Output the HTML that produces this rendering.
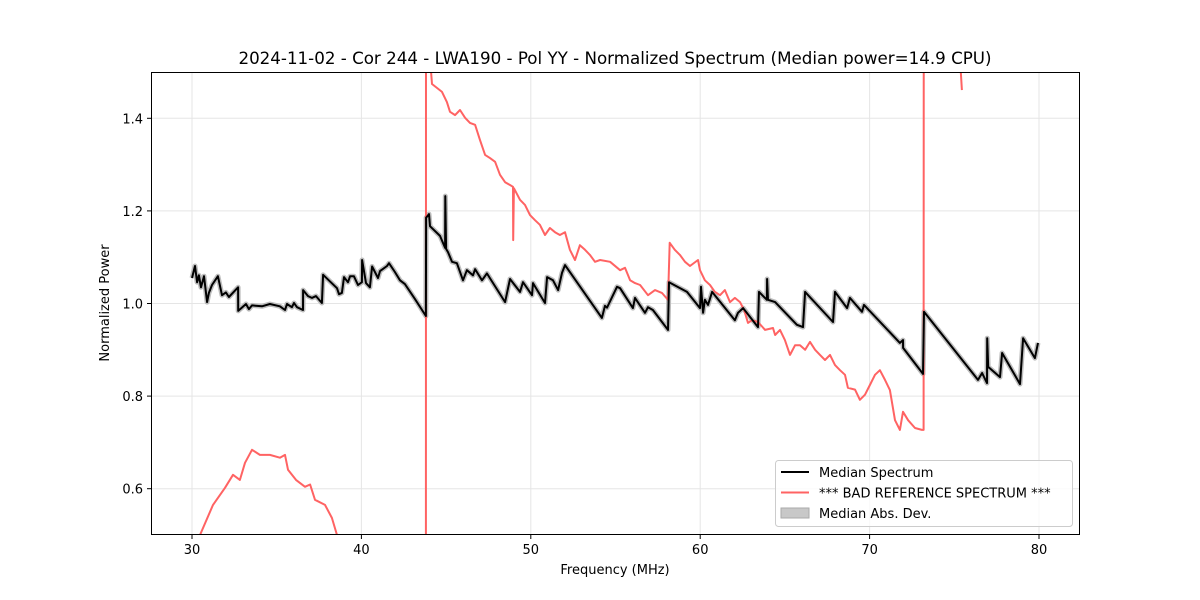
<!DOCTYPE html>
<html><head><meta charset="utf-8"><style>
html,body{margin:0;background:#fff;overflow:hidden;width:1200px;height:600px;}
svg{display:block;font-family:"DejaVu Sans","Liberation Sans",sans-serif;}
</style></head><body>
<svg id="chart" width="1200" height="600" viewBox="0 0 1200 600"></svg>
<script>
const xTicks=[30,40,50,60,70,80];
const yTicks=[0.6,0.8,1.0,1.2,1.4];
const yTickLabels=["0.6","0.8","1.0","1.2","1.4"];
const medFreq=[30.0,30.18,30.3,30.41,30.53,30.71,30.89,31.0,31.18,31.53,31.77,32.0,32.18,32.72,32.73,33.19,33.36,33.54,34.13,34.6,35.19,35.49,35.61,35.9,36.02,36.2,36.55,36.56,36.85,37.08,37.32,37.67,37.74,38.56,38.68,38.85,38.97,39.21,39.33,39.56,39.8,40.03,40.04,40.27,40.5,40.63,40.98,41.1,41.51,41.63,41.98,42.28,42.57,43.16,43.81,43.82,43.99,44.05,44.64,44.94,44.95,45.0,45.11,45.35,45.64,46.0,46.23,46.59,46.71,47.12,47.41,48.48,48.77,49.36,49.54,50.07,50.13,50.84,50.96,51.31,51.61,51.84,52.02,54.2,54.38,54.5,55.09,55.27,56.03,56.15,56.74,56.92,57.21,58.1,58.16,59.22,59.99,60.05,60.17,60.28,60.46,60.7,62.05,62.23,62.53,63.41,63.47,63.94,63.95,64.0,64.42,65.71,66.07,66.19,67.84,67.96,68.67,68.84,69.55,69.67,71.79,71.97,71.98,73.15,73.21,76.4,76.64,76.93,76.94,77.0,77.7,77.82,78.88,79.06,79.76,79.94];
const medPower=[1.055,1.081,1.046,1.061,1.035,1.059,1.003,1.023,1.04,1.059,1.018,1.024,1.014,1.035,0.984,0.999,0.988,0.996,0.994,0.999,0.994,0.986,0.999,0.992,1.001,0.992,0.986,1.029,1.016,1.012,1.016,1.001,1.062,1.033,1.02,1.023,1.057,1.046,1.059,1.059,1.04,1.046,1.094,1.044,1.035,1.08,1.055,1.07,1.081,1.087,1.068,1.05,1.042,1.01,0.973,1.185,1.193,1.167,1.146,1.12,1.232,1.118,1.111,1.09,1.087,1.05,1.072,1.061,1.074,1.05,1.065,1.003,1.053,1.025,1.046,1.018,1.044,1.001,1.057,1.05,1.029,1.066,1.083,0.969,0.995,0.991,1.036,1.033,0.99,1.012,0.98,0.992,0.986,0.943,1.046,1.025,0.99,1.036,0.98,1.008,0.997,1.025,0.964,0.98,0.99,0.949,1.025,1.008,1.053,1.008,1.003,0.954,0.949,1.025,0.96,1.025,0.99,1.012,0.982,0.997,0.915,0.921,0.904,0.848,0.982,0.835,0.85,0.828,0.925,0.863,0.841,0.893,0.826,0.925,0.882,0.915];
const refFreq=[30.1,30.47,31.24,31.95,32.42,32.83,33.13,33.54,34.01,34.6,35.19,35.49,35.67,36.14,36.67,36.97,37.26,37.85,38.26,38.56,38.74,39.5,43.78,43.8,43.82,43.9,44.17,44.76,45.05,45.23,45.53,45.82,46.12,46.41,46.71,47.0,47.3,47.59,47.89,48.18,48.48,48.77,48.95,48.96,49.0,49.36,49.66,49.95,50.25,50.54,50.84,51.13,51.43,51.72,52.02,52.31,52.61,52.9,53.2,53.49,53.79,54.09,54.68,55.27,55.56,55.86,56.15,56.45,56.92,57.33,57.74,58.1,58.2,58.5,58.8,59.1,59.4,59.87,59.99,60.28,60.58,60.87,61.17,61.46,61.76,62.05,62.35,62.59,62.82,63.06,63.41,63.83,64.3,64.42,64.71,65.0,65.3,65.6,65.89,66.19,66.48,66.78,67.07,67.37,67.66,67.96,68.25,68.55,68.72,69.14,69.43,69.73,70.02,70.32,70.61,70.91,71.2,71.5,71.79,71.97,72.27,72.68,73.09,73.19,73.21,73.25,75.22,75.45];
const refPower=[0.45,0.5,0.565,0.602,0.63,0.619,0.656,0.684,0.673,0.673,0.667,0.673,0.641,0.619,0.604,0.609,0.576,0.565,0.537,0.5,0.48,0.3,0.3,-1,3,1.6,1.474,1.457,1.435,1.414,1.407,1.418,1.401,1.39,1.386,1.353,1.321,1.314,1.306,1.278,1.262,1.256,1.252,1.137,1.249,1.224,1.213,1.191,1.18,1.17,1.148,1.163,1.154,1.148,1.154,1.116,1.094,1.126,1.116,1.105,1.09,1.094,1.09,1.072,1.077,1.05,1.044,1.04,1.018,1.029,1.023,1.008,1.131,1.116,1.105,1.09,1.081,1.094,1.072,1.05,1.04,1.025,1.018,1.029,1.003,1.012,1.003,0.986,0.958,0.964,0.96,0.943,0.947,0.932,0.943,0.921,0.889,0.91,0.91,0.9,0.917,0.9,0.889,0.878,0.889,0.867,0.856,0.846,0.818,0.814,0.792,0.803,0.824,0.846,0.856,0.835,0.813,0.748,0.727,0.766,0.748,0.731,0.727,0.727,3,3,1.6,1.461];

const L=151,R=1080,T=72,B=535;
const x=f=>192+(f-30)*(1039-192)/50;
const y=v=>B-(v-0.5)*(B-T)/1.0;
const NS="http://www.w3.org/2000/svg";
const svg=document.getElementById('chart');
function mk(tag,attrs,parent){const e=document.createElementNS(NS,tag);for(const k in attrs)e.setAttribute(k,attrs[k]);(parent||svg).appendChild(e);return e;}

const defs=mk('defs',{});
const cp=mk('clipPath',{id:'clip'},defs);
mk('rect',{x:L,y:T,width:R-L,height:B-T},cp);

xTicks.forEach(t=>{const g=mk('line',{x1:x(t),x2:x(t),y1:T,y2:B,stroke:'#e5e5e5','stroke-width':1});

});
yTicks.forEach(t=>{const g=mk('line',{x1:L,x2:R,y1:y(t),y2:y(t),stroke:'#e5e5e5','stroke-width':1});

});

const plot=mk('g',{'clip-path':'url(#clip)'});


const mpts=medFreq.map((f,i)=>x(f).toFixed(1)+','+y(medPower[i]).toFixed(1)).join(' ');
const band=mk('polyline',{points:mpts,fill:'none',stroke:'#bdbdbd','stroke-width':5,'stroke-linejoin':'round'},plot);


const rpts=refFreq.map((f,i)=>x(f).toFixed(1)+','+y(refPower[i]).toFixed(1)).join(' ');
const red=mk('polyline',{points:rpts,fill:'none',stroke:'#ff6363','stroke-width':2,'stroke-linejoin':'round'},plot);


const blk=mk('polyline',{points:mpts,fill:'none',stroke:'#000','stroke-width':2,'stroke-linejoin':'round'},plot);



const frame=mk('rect',{x:L+0.5,y:T+0.5,width:R-L-1,height:B-T-1,fill:'none',stroke:'#000','stroke-width':1});



xTicks.forEach(t=>{mk('line',{x1:x(t),x2:x(t),y1:B,y2:B+4,stroke:'#000'});
const tx=mk('text',{x:x(t),y:B+19,'text-anchor':'middle','font-size':13});tx.textContent=t;

});
yTicks.forEach((t,i)=>{mk('line',{x1:L-4,x2:L,y1:y(t),y2:y(t),stroke:'#000'});
const tx=mk('text',{x:L-8,y:y(t)+5,'text-anchor':'end','font-size':13});tx.textContent=yTickLabels[i];

});

const xt=mk('text',{x:615,y:574,'text-anchor':'middle','font-size':13});xt.textContent='Frequency (MHz)';


const yt=mk('text',{x:109,y:303,'text-anchor':'middle','font-size':13,transform:'rotate(-90 109 303)'});yt.textContent='Normalized Power';


const tt=mk('text',{x:615,y:64,'text-anchor':'middle','font-size':16.7});tt.textContent='2024-11-02 - Cor 244 - LWA190 - Pol YY - Normalized Spectrum (Median power=14.9 CPU)';



const lg=mk('g',{});


mk('rect',{x:775.5,y:460.5,width:297,height:66,rx:3,fill:'#fff','fill-opacity':0.8,stroke:'#ccc'},lg);
const items=[['Median Spectrum','#000','line'],['*** BAD REFERENCE SPECTRUM ***','#ff6363','line'],['Median Abs. Dev.','#c8c8c8','patch']];
items.forEach((it,i)=>{const cy=472+i*20.5;
const e=mk('g',{},lg);


if(it[2]==='line')mk('line',{x1:781,x2:809,y1:cy,y2:cy,stroke:it[1],'stroke-width':2},e);
else mk('rect',{x:781,y:cy-5,width:28,height:10,fill:it[1],stroke:'#aaa'},e);
const t=mk('text',{x:819,y:cy+5,'font-size':13},e);t.textContent=it[0];});
</script>
</body></html>
